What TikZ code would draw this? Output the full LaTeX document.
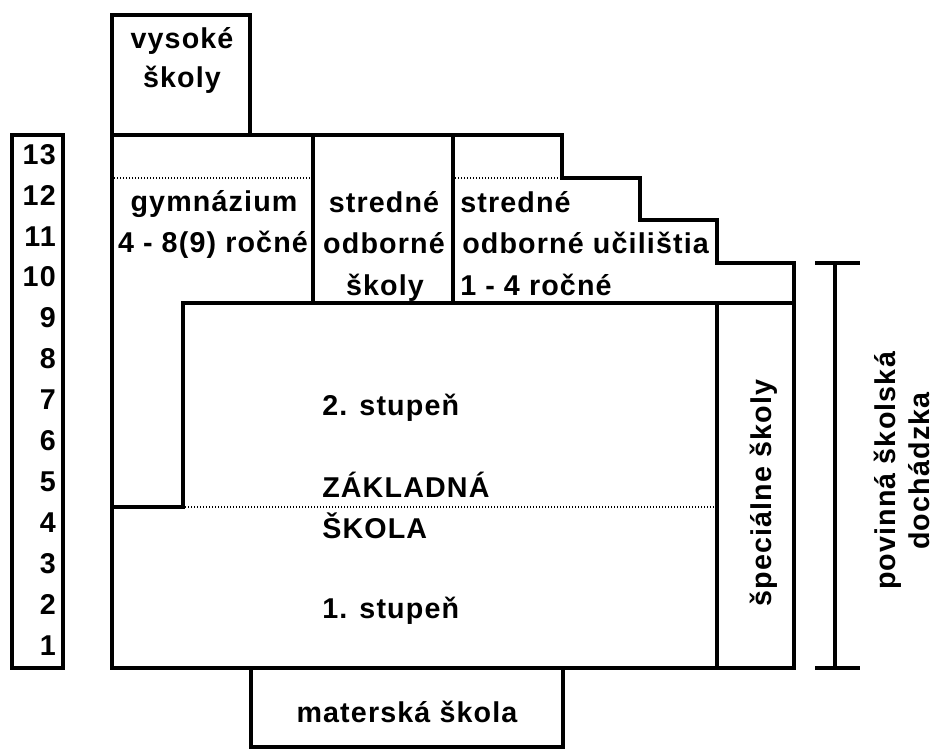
\documentclass[tikz,border=0pt]{standalone}
\usepackage{fontspec}
\setmainfont{Liberation Sans}[LetterSpace=4]
\begin{document}
\begin{tikzpicture}[x=0.75pt,y=-0.75pt,
  wall/.style={line width=2.6pt,line join=miter,line cap=rect},
  dots/.style={line width=1pt,dash pattern=on 0.9pt off 1.35pt},
  lbl/.style={inner sep=0pt,font=\fontsize{21.5pt}{26pt}\selectfont\bfseries},
  num/.style={lbl,anchor=base east}]
\useasboundingbox (0,0) rectangle (934,749);
% year column
\draw[wall] (12,135) rectangle (63,668);
\foreach \n in {1,...,13}{
  \node[num] (n\n) at (56,{655-(\n-1)*40.9}) {\n};
}
% vysoké školy
\draw[wall] (112,135) -- (112,15) -- (250,15) -- (250,135);
% main outline
\draw[wall] (112,668) -- (112,135) -- (562,135) -- (562,178) -- (640,178) -- (640,220)
  -- (717,220) -- (717,263) -- (794,263) -- (794,668) -- cycle;
\draw[wall] (313,135) -- (313,303);
\draw[wall] (453,135) -- (453,303);
\draw[wall] (112,507) -- (183,507) -- (183,303) -- (794,303);
\draw[wall] (717,303) -- (717,668);
% materská
\draw[wall] (251,668) -- (251,747) -- (563,747) -- (563,668);
% dotted
\draw[dots] (114,178) -- (312,178);
\draw[dots] (455,178) -- (561,178);
\draw[dots] (185,507) -- (716,507);
% bracket
\coordinate (bt) at (835,263);
\coordinate (bb) at (835,668);
\draw[wall,line cap=butt] (bt) -- (bb);
\draw[wall,line cap=butt] (815,263) -- (860,263);
\draw[wall,line cap=butt] (815,668) -- (860,668);
% texts
\node[lbl,anchor=base] (vs1) at (182,49) {vysoké};
\node[lbl,anchor=base] (vs2) at (182,88) {školy};
\node[lbl,anchor=base] (g1) at (214,211) {gymnázium};
\node[lbl,anchor=base] (g2) at (213,252) {4 - 8(9) ročné};
\node[lbl,anchor=base] (s1) at (384,212) {stredné};
\node[lbl,anchor=base] (s2) at (384,253) {odborné};
\node[lbl,anchor=base] (s3) at (385,295) {školy};
\node[lbl,anchor=base west] (u1) at (460,212) {stredné};
\node[lbl,anchor=base west] (u2) at (462,253) {odborné učilištia};
\node[lbl,anchor=base west] (u3) at (460,295) {1 - 4 ročné};
\node[lbl,anchor=base west] (z1) at (322,415) {2. stupeň};
\node[lbl,anchor=base west] (z2) at (322,497) {ZÁKLADNÁ};
\node[lbl,anchor=base west] (z3) at (322,538) {ŠKOLA};
\node[lbl,anchor=base west] (z4) at (322,618) {1. stupeň};
\node[lbl,anchor=base] (ms) at (407,722) {materská škola};
\node[lbl,anchor=base,rotate=90] (sp) at (771,493) {špeciálne školy};
\node[lbl,anchor=base,rotate=90] (pv1) at (895,471) {povinná školská};
\node[lbl,anchor=base,rotate=90] (pv2) at (929,471) {dochádzka};
\end{tikzpicture}
\end{document}
